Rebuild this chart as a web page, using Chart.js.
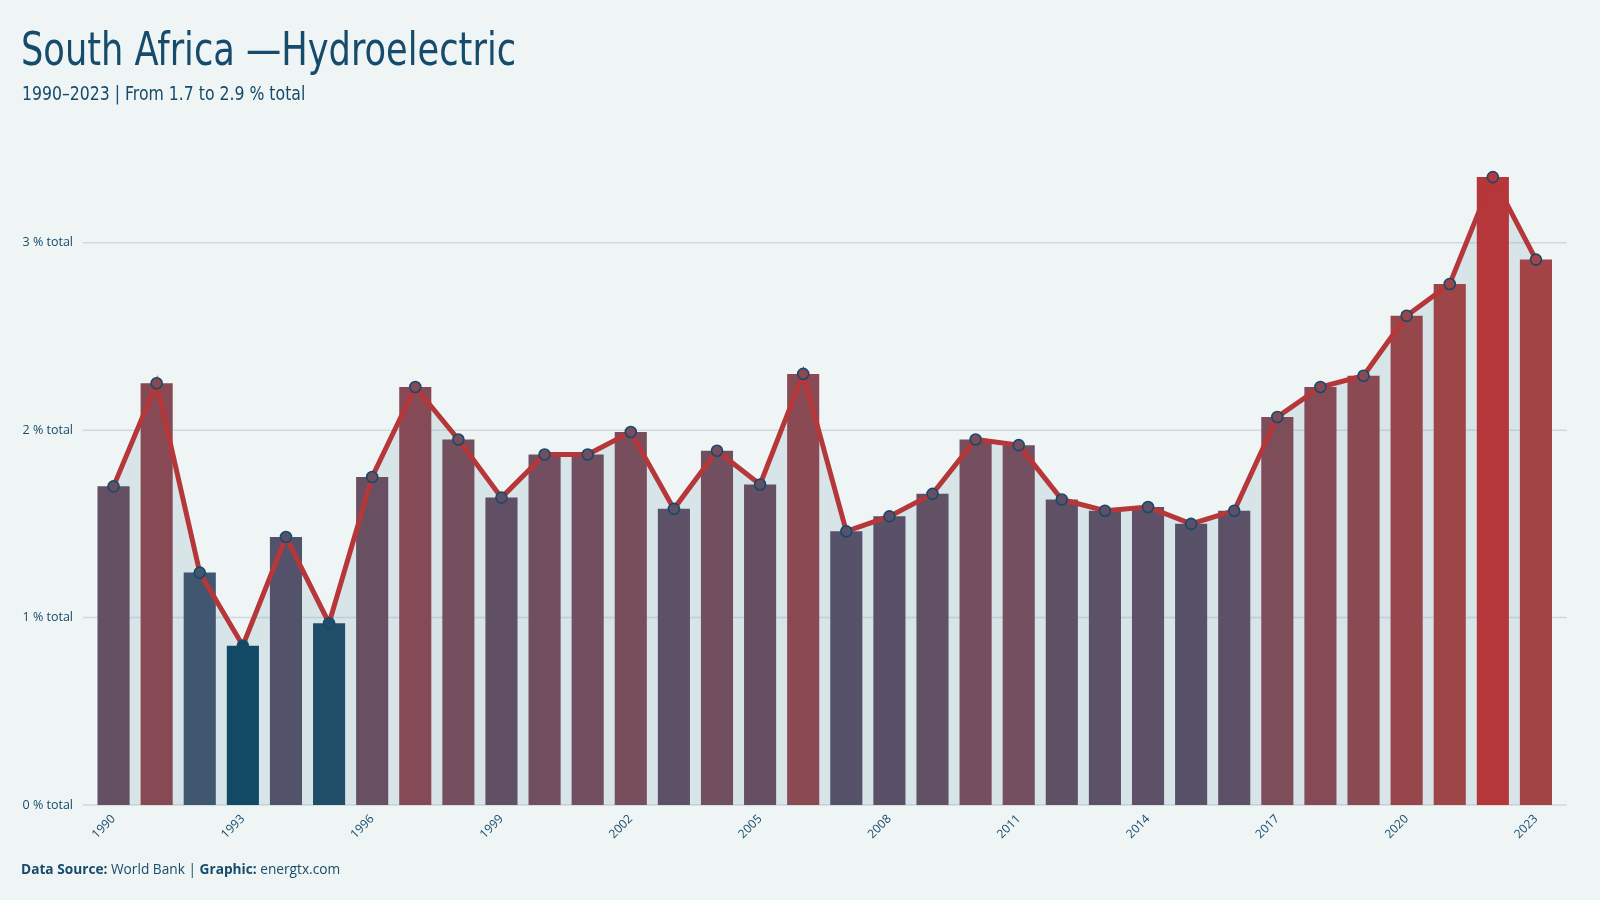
<!DOCTYPE html>
<html>
<head>
<meta charset="utf-8">
<script src="https://cdn.jsdelivr.net/npm/chart.js@4.4.1/dist/chart.umd.min.js"></script>
<style>
  html, body { margin: 0; padding: 0; background: #eff5f5; width: 1600px; height: 900px; overflow: hidden; }
  #wrap { position: relative; width: 1600px; height: 900px; }
  #chart { position: absolute; left: 0; top: 0; }
  .title { position: absolute; left: 21px; top: 25px; font-family: "Liberation Sans Narrow", "DejaVu Sans Condensed", sans-serif; font-size: 47px; line-height: 1; color: #164b6b; white-space: nowrap; transform: scaleX(0.833); transform-origin: 0 0; }
  .subtitle { position: absolute; left: 22px; top: 83px; font-family: "Liberation Sans Narrow", "DejaVu Sans Condensed", sans-serif; font-size: 20px; line-height: 1; color: #164b6b; white-space: nowrap; transform: scaleX(0.873); transform-origin: 0 0; }
  .footer { position: absolute; left: 21px; top: 862px; font-family: "Open Sans", sans-serif; font-size: 13.7px; line-height: 1; color: #164b6b; white-space: nowrap; }
  .footer b { font-weight: 700; }
</style>
</head>
<body>
<div id="wrap">
  <canvas id="chart" width="1600" height="900"></canvas>
  <div class="title">South Africa —Hydroelectric</div>
  <div class="subtitle">1990–2023 | From 1.7 to 2.9 % total</div>
  <div class="footer"><b>Data Source:</b> World Bank | <b>Graphic:</b> energtx.com</div>
</div>
<script>
// ---- data ----
const years = ['1990','1991','1992','1993','1994','1995','1996','1997','1998','1999',
               '2000','2001','2002','2003','2004','2005','2006','2007','2008','2009',
               '2010','2011','2012','2013','2014','2015','2016','2017','2018','2019',
               '2020','2021','2022','2023'];
const hydroShare = [1.70, 2.25, 1.24, 0.85, 1.43, 0.97, 1.75, 2.23, 1.95, 1.64,
                    1.87, 1.87, 1.99, 1.58, 1.89, 1.71, 2.30, 1.46, 1.54, 1.66,
                    1.95, 1.92, 1.63, 1.57, 1.59, 1.50, 1.57, 2.07, 2.23, 2.29,
                    2.61, 2.78, 3.35, 2.91];
const shownYearLabels = ['1990','1993','1996','1999','2002','2005','2008','2011','2014','2017','2020','2023'];
const yTickValues = [0, 1, 2, 3];
const yTickSuffix = ' % total';

// ---- styles ----
const colorStops = [
  [0.85, [18, 74, 102]],
  [1.24, [65, 86, 111]],
  [1.46, [85, 82, 106]],
  [1.70, [101, 79, 99]],
  [1.95, [118, 79, 94]],
  [2.25, [135, 74, 85]],
  [2.61, [151, 71, 75]],
  [2.91, [163, 68, 70]],
  [3.35, [181, 55, 58]]
];
function colorFor(v) {
  if (v <= colorStops[0][0]) return 'rgb(' + colorStops[0][1].join(',') + ')';
  for (let i = 0; i < colorStops.length - 1; i++) {
    const [a, ca] = colorStops[i], [b, cb] = colorStops[i + 1];
    if (v <= b) {
      const t = (v - a) / (b - a);
      const c = ca.map((x, k) => Math.round(x + (cb[k] - x) * t));
      return 'rgb(' + c.join(',') + ')';
    }
  }
  return 'rgb(' + colorStops[colorStops.length - 1][1].join(',') + ')';
}
const barColors = hydroShare.map(colorFor);
const textColor = '#164b6b';

const gridPlugin = {
  id: 'customGrid',
  beforeDatasetsDraw(chart) {
    const { ctx, chartArea, scales } = chart;
    ctx.save();
    ctx.strokeStyle = 'rgba(150,172,178,0.38)';
    ctx.lineWidth = 1.5;
    yTickValues.forEach(v => {
      const py = scales.y.getPixelForValue(v);
      ctx.beginPath();
      ctx.moveTo(chartArea.left - 9, py);
      ctx.lineTo(chartArea.right + 9, py);
      ctx.stroke();
    });
    ctx.restore();
  }
};

new Chart(document.getElementById('chart'), {
  data: {
    labels: years,
    datasets: [
      {
        type: 'line',
        data: hydroShare,
        borderColor: '#b5373a',
        borderWidth: 5,
        tension: 0,
        fill: 'origin',
        backgroundColor: '#d7e4e8',
        pointRadius: 5.5,
        pointBorderWidth: 1.6,
        pointBorderColor: '#174a6a',
        pointBackgroundColor: barColors,
        order: 0
      },
      {
        type: 'bar',
        data: hydroShare,
        backgroundColor: barColors,
        borderWidth: 0,
        barPercentage: 0.745,
        categoryPercentage: 1,
        order: 1
      }
    ]
  },
  options: {
    responsive: false,
    animation: false,
    devicePixelRatio: 1,
    layout: { padding: { top: 149, right: 42.5, bottom: 0, left: 0 } },
    plugins: {
      legend: { display: false },
      tooltip: { enabled: false },
      filler: { drawTime: 'beforeDatasetsDraw' }
    },
    scales: {
      x: {
        grid: { display: false, drawTicks: false },
        border: { display: false },
        afterFit(scale) { scale.height = 95; },
        ticks: {
          autoSkip: false,
          minRotation: 45,
          maxRotation: 45,
          padding: 7,
          color: textColor,
          font: { family: 'Open Sans', size: 12 },
          callback(val, idx) { return shownYearLabels.includes(years[idx]) ? years[idx] : ''; }
        }
      },
      y: {
        min: 0,
        max: 3.5,
        grid: { display: false, drawTicks: false },
        border: { display: false },
        afterFit(scale) { scale.width = 92; },
        afterBuildTicks(scale) { scale.ticks = yTickValues.map(v => ({ value: v })); },
        ticks: {
          padding: 19,
          color: textColor,
          font: { family: 'Open Sans', size: 12.5 },
          callback(v) { return v + yTickSuffix; }
        }
      }
    }
  },
  plugins: [gridPlugin]
});
</script>
</body>
</html>
